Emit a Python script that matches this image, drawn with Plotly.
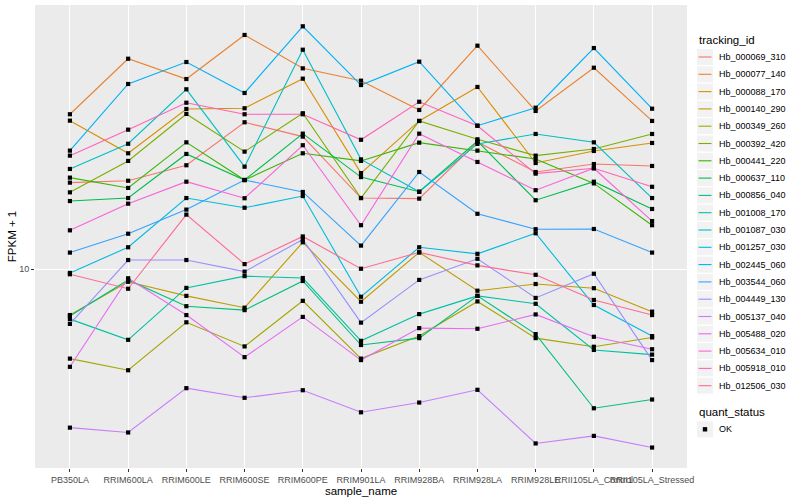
import plotly.graph_objects as go

samples = ["PB350LA", "RRIM600LA", "RRIM600LE", "RRIM600SE", "RRIM600PE",
           "RRIM901LA", "RRIM928BA", "RRIM928LA", "RRIM928LE",
           "RRII105LA_Control", "RRII105LA_Stressed"]

hb_000069_310 = [13.93, 14.03, 14.89, 17.56, 16.62, 13.13, 13.10, 16.28, 14.51, 14.96, 14.85]
hb_000077_140 = [18.11, 22.41, 20.73, 24.55, 21.60, 20.60, 18.41, 23.56, 18.34, 21.65, 17.65]
hb_000088_170 = [17.67, 15.59, 18.48, 18.53, 20.76, 14.45, 17.65, 20.11, 15.02, 15.73, 16.22]
hb_000140_290 = [8.38, 9.52, 9.02, 8.62, 11.08, 8.82, 10.66, 9.20, 9.44, 9.29, 8.49]
hb_000349_260 = [7.09, 6.78, 8.15, 7.43, 8.85, 7.09, 7.73, 8.83, 7.67, 7.42, 7.69]
hb_000392_420 = [13.42, 15.14, 18.13, 15.69, 18.18, 13.13, 17.65, 16.45, 15.45, 15.85, 16.79]
hb_000441_220 = [14.20, 13.65, 16.26, 14.07, 15.59, 15.14, 16.24, 15.75, 15.25, 13.89, 11.83]
hb_000637_110 = [12.98, 13.13, 15.55, 14.07, 16.81, 14.23, 13.45, 16.34, 13.02, 13.98, 12.59]
hb_000856_040 = [8.35, 9.59, 8.67, 8.54, 9.55, 7.47, 7.67, 9.02, 7.79, 5.86, 6.06]
hb_001008_170 = [8.25, 7.62, 9.30, 9.73, 9.66, 7.59, 8.41, 9.02, 8.75, 7.33, 7.20]
hb_001087_030 = [14.68, 16.17, 19.93, 14.81, 23.20, 15.23, 13.45, 16.16, 16.79, 16.26, 13.13]
hb_001257_030 = [9.85, 10.87, 13.13, 12.65, 13.23, 8.99, 10.87, 10.60, 11.47, 8.71, 7.73]
hb_002445_060 = [15.75, 20.34, 22.13, 19.65, 25.38, 20.26, 22.16, 17.33, 18.57, 23.35, 18.50]
hb_003544_060 = [10.65, 11.45, 12.56, 14.07, 13.44, 10.94, 14.51, 12.36, 11.65, 11.66, 10.65]
hb_004449_130 = [8.10, 10.35, 10.35, 9.90, 11.20, 8.14, 9.59, 10.40, 8.95, 9.82, 7.05]
hb_005137_040 = [5.44, 5.34, 6.33, 6.10, 6.28, 5.77, 5.99, 6.29, 5.12, 5.27, 5.04]
hb_005488_020 = [6.87, 9.65, 8.38, 7.13, 8.32, 7.05, 7.97, 7.95, 8.40, 7.71, 7.35]
hb_005634_010 = [11.60, 12.85, 13.98, 13.12, 16.08, 11.83, 16.81, 15.08, 13.53, 14.72, 12.02]
hb_005918_010 = [15.45, 17.07, 18.93, 18.11, 18.11, 16.42, 19.00, 17.33, 14.42, 14.72, 13.71]
hb_012506_030 = [9.80, 9.27, 12.32, 10.19, 11.33, 10.01, 10.66, 10.14, 9.78, 8.88, 8.38]

tracking_ids = ["Hb_000069_310", "Hb_000077_140", "Hb_000088_170", "Hb_000140_290",
                "Hb_000349_260", "Hb_000392_420", "Hb_000441_220", "Hb_000637_110",
                "Hb_000856_040", "Hb_001008_170", "Hb_001087_030", "Hb_001257_030",
                "Hb_002445_060", "Hb_003544_060", "Hb_004449_130", "Hb_005137_040",
                "Hb_005488_020", "Hb_005634_010", "Hb_005918_010", "Hb_012506_030"]

series = [hb_000069_310, hb_000077_140, hb_000088_170, hb_000140_290, hb_000349_260,
          hb_000392_420, hb_000441_220, hb_000637_110, hb_000856_040, hb_001008_170,
          hb_001087_030, hb_001257_030, hb_002445_060, hb_003544_060, hb_004449_130,
          hb_005137_040, hb_005488_020, hb_005634_010, hb_005918_010, hb_012506_030]

quant_status = ["OK"]

colors = ["#F8766D", "#EA8331", "#D89000", "#C09B00", "#A3A500", "#7CAE00", "#39B600",
          "#00BB4E", "#00BF7D", "#00C1A3", "#00BFC4", "#00BAE0", "#00B0F6", "#35A2FF",
          "#9590FF", "#C77CFF", "#E76BF3", "#FA62DB", "#FF62BC", "#FF6C91"]

# ---- layout geometry (pixels) ----
W, H = 800, 500
ML, MR, MT, MB = 35, 113, 5, 32
PW, PH = W - ML - MR, H - MT - MB


def px(xp):
    return (xp - ML) / PW


def py(yp):
    return (H - MB - yp) / PH


fig = go.Figure()

for name, vals, col in zip(tracking_ids, series, colors):
    fig.add_trace(go.Scatter(
        x=samples, y=vals, mode="lines", name=name, showlegend=False,
        line=dict(color=col, width=1.1)))

all_x = [s for vals in series for s in samples]
all_y = [v for vals in series for v in vals]
fig.add_trace(go.Scatter(
    x=all_x, y=all_y, mode="markers", showlegend=False, name=quant_status[0],
    marker=dict(symbol="square", color="black", size=4.2, line=dict(width=0)),
    hoverinfo="skip"))

# ---- manual ggplot-style legend ----
shapes = []
annotations = []
LEG_X = 697
KEY_W = 16
KEY_STEP = 17.3
FIRST_KEY_Y = 57
TEXT_X = 716.5

annotations.append(dict(text="tracking_id", x=px(LEG_X), y=py(40.5), xref="paper", yref="paper",
                        xanchor="left", yanchor="middle", showarrow=False,
                        font=dict(size=11.5, color="black")))
for i, (name, col) in enumerate(zip(tracking_ids, colors)):
    cy = FIRST_KEY_Y + KEY_STEP * i
    shapes.append(dict(type="rect", xref="paper", yref="paper",
                       x0=px(LEG_X), x1=px(LEG_X + KEY_W),
                       y0=py(cy - KEY_W / 2), y1=py(cy + KEY_W / 2),
                       fillcolor="#F2F2F2", line=dict(width=0), layer="above"))
    shapes.append(dict(type="line", xref="paper", yref="paper",
                       x0=px(LEG_X + 1.5), x1=px(LEG_X + KEY_W - 1.5),
                       y0=py(cy), y1=py(cy),
                       line=dict(color=col, width=1.1), layer="above"))
    annotations.append(dict(text=name, x=px(TEXT_X), y=py(cy), xref="paper", yref="paper",
                            xanchor="left", yanchor="middle", showarrow=False,
                            font=dict(size=9, color="black")))

annotations.append(dict(text="quant_status", x=px(LEG_X), y=py(411.7), xref="paper", yref="paper",
                        xanchor="left", yanchor="middle", showarrow=False,
                        font=dict(size=11.5, color="black")))
qy = 429.3
shapes.append(dict(type="rect", xref="paper", yref="paper",
                   x0=px(LEG_X), x1=px(LEG_X + KEY_W),
                   y0=py(qy - KEY_W / 2), y1=py(qy + KEY_W / 2),
                   fillcolor="#F2F2F2", line=dict(width=0), layer="above"))
shapes.append(dict(type="rect", xref="paper", yref="paper",
                   x0=px(LEG_X + KEY_W / 2 - 2.2), x1=px(LEG_X + KEY_W / 2 + 2.2),
                   y0=py(qy - 2.2), y1=py(qy + 2.2),
                   fillcolor="black", line=dict(width=0), layer="above"))
annotations.append(dict(text=quant_status[0], x=px(TEXT_X), y=py(qy), xref="paper", yref="paper",
                        xanchor="left", yanchor="middle", showarrow=False,
                        font=dict(size=9, color="black")))

fig.update_layout(
    width=W, height=H,
    margin=dict(l=ML, r=MR, t=MT, b=MB, autoexpand=False),
    paper_bgcolor="white",
    plot_bgcolor="#EBEBEB",
    font=dict(family="Liberation Sans, Arial, sans-serif", color="black"),
    showlegend=False,
    shapes=shapes,
    annotations=annotations,
)

fig.update_xaxes(
    type="category", categoryorder="array", categoryarray=samples,
    range=[-0.6, 10.6], showgrid=True, gridcolor="white", gridwidth=1.1,
    zeroline=False, ticks="outside", ticklen=3, tickcolor="#333333",
    tickangle=0, tickfont=dict(size=9, color="#4D4D4D"),
    title=dict(text="sample_name", font=dict(size=11.5), standoff=0),
    showline=False, automargin=False,
)

fig.update_yaxes(
    type="log", range=[0.66833, 1.44],
    tickvals=[10], ticktext=["10"],
    showgrid=True, gridcolor="white", gridwidth=1.1, zeroline=False,
    ticks="outside", ticklen=3, tickcolor="#333333",
    tickfont=dict(size=9, color="#4D4D4D"),
    title=dict(text="FPKM + 1", font=dict(size=11.5), standoff=0),
    showline=False, automargin=False,
)

fig.write_html("out.html", config={"displayModeBar": False},
               post_script="document.body.style.margin='0';")
